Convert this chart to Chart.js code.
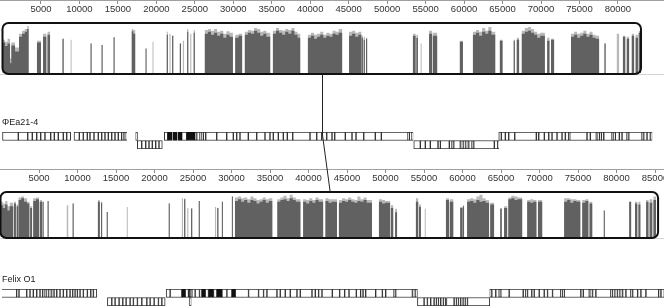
<!DOCTYPE html>
<html>
<head>
<meta charset="utf-8">
<script src="https://cdn.jsdelivr.net/npm/chart.js@4.4.0/dist/chart.umd.min.js"></script>
<style>
  html, body { margin: 0; padding: 0; background: #fff; }
  body { position: relative; width: 664px; height: 307px; overflow: hidden; }
  canvas { position: absolute; }
</style>
</head>
<body>
<canvas id="axisTop"></canvas>
<canvas id="profTop"></canvas>
<canvas id="genesTop"></canvas>
<canvas id="axisBottom"></canvas>
<canvas id="profBottom"></canvas>
<canvas id="genesBottom"></canvas>
<canvas id="link"></canvas>
<script>
const FONT = "'Liberation Sans', Arial, sans-serif"

// axis tick labels (bp)
const phiTicks = [5000, 10000, 15000, 20000, 25000, 30000, 35000, 40000, 45000, 50000, 55000, 60000, 65000, 70000, 75000, 80000]
const felixTicks = [5000, 10000, 15000, 20000, 25000, 30000, 35000, 40000, 45000, 50000, 55000, 60000, 65000, 70000, 75000, 80000, 85000]

// extent of the similarity profile boxes (bp)
const phiLength = 83000
const felixLength = 85400

// matching LCB position in each genome (bp)
const lcbPhi = 41500
const lcbFelix = 42800

// similarity profile: [start, end, mean, max] (bp, % identity-ish)
const phiProfile = [
  [0, 330, 62, 68], [330, 650, 55, 64], [650, 980, 60, 70], [980, 1150, 20, 30], [1150, 1630, 56, 62],
  [1630, 2150, 44, 52], [2150, 2540, 74, 80], [2540, 2900, 80, 86], [2900, 3200, 84, 90], [3200, 3400, 90, 96],
  [4480, 5000, 62, 66], [5270, 5700, 74, 80], [5850, 6180, 78, 84],
  [7800, 7950, 70, 70], [8850, 8980, 0, 68], [11450, 11580, 60, 60], [12880, 13010, 57, 57], [14440, 14570, 73, 73],
  [16800, 17000, 85, 90], [17000, 17250, 80, 88], [18600, 18720, 50, 50], [19500, 19630, 0, 64],
  [21350, 21500, 78, 84], [21700, 21850, 0, 80], [22050, 22200, 76, 76], [23050, 23200, 60, 60], [23450, 23600, 0, 66],
  [24000, 24150, 84, 90], [24400, 24550, 0, 80], [24850, 25000, 82, 88],
  [26300, 26700, 80, 88], [26700, 27100, 84, 90], [27100, 27500, 78, 86], [27500, 27900, 82, 90], [27900, 28300, 76, 84],
  [28300, 28700, 80, 86], [28700, 29100, 72, 80], [29100, 29500, 78, 85], [29500, 29950, 74, 82],
  [30250, 30700, 72, 78], [30700, 31150, 76, 80],
  [31500, 31900, 78, 84], [31900, 32300, 82, 88], [32300, 32700, 80, 86], [32700, 33100, 86, 92], [33100, 33500, 82, 90],
  [33500, 33900, 76, 84], [33900, 34300, 80, 86], [34300, 34800, 74, 82],
  [35150, 35550, 80, 86], [35550, 35950, 86, 92], [35950, 36350, 82, 88], [36350, 36750, 78, 86], [36750, 37150, 84, 90],
  [37150, 37550, 80, 88], [37550, 37950, 86, 92], [37950, 38350, 78, 84], [38350, 38700, 72, 80],
  [39700, 40100, 72, 78], [40100, 40500, 76, 82], [40500, 40900, 70, 78], [40900, 41300, 74, 80], [41300, 41700, 78, 84],
  [41700, 42100, 72, 78], [42100, 42500, 76, 82], [42500, 42900, 74, 80], [42900, 43300, 80, 86], [43300, 43700, 78, 84],
  [43700, 44150, 82, 90],
  [45050, 45450, 76, 84], [45450, 45850, 80, 86], [45850, 46250, 74, 82], [46250, 46650, 78, 84],
  [46700, 46850, 72, 76], [46950, 47100, 68, 74], [47250, 47400, 70, 72],
  [53350, 53700, 76, 80], [53800, 54000, 72, 78], [54350, 54480, 0, 60], [55450, 55850, 80, 86], [55950, 56500, 76, 82],
  [59450, 59850, 64, 66],
  [61150, 61550, 78, 84], [61550, 61950, 82, 88], [61950, 62350, 76, 84], [62350, 62750, 84, 92], [62750, 63150, 80, 86],
  [63150, 63550, 86, 94], [63550, 64050, 78, 84],
  [64650, 65000, 66, 68], [66450, 66600, 66, 68], [66850, 67150, 68, 72],
  [67500, 67900, 80, 86], [67900, 68300, 84, 92], [68300, 68700, 86, 94], [68700, 69100, 82, 90], [69100, 69500, 78, 84],
  [69500, 69900, 72, 80], [69900, 70500, 76, 82],
  [70800, 71100, 66, 72], [71300, 71700, 68, 70],
  [73900, 74300, 74, 80], [74300, 74700, 78, 84], [74700, 75100, 72, 80], [75100, 75500, 76, 82], [75500, 75900, 80, 86],
  [75900, 76300, 74, 80], [76300, 76700, 78, 84], [76700, 77100, 72, 78], [77100, 77550, 70, 76],
  [78250, 78400, 60, 60], [79850, 80150, 0, 80], [80650, 80950, 74, 76], [81150, 81450, 70, 74],
  [81800, 82100, 76, 80], [82300, 82600, 72, 78], [82700, 83000, 82, 86]
]

const felixProfile = [
  [0, 300, 72, 80], [300, 600, 66, 76], [600, 900, 74, 82], [900, 1200, 60, 70], [1200, 1650, 70, 78],
  [1750, 2000, 76, 80], [2100, 2300, 70, 74], [2350, 2700, 84, 90], [2700, 3050, 88, 92], [3050, 3450, 80, 88],
  [3450, 3750, 76, 80], [3850, 4100, 66, 70], [4250, 4600, 82, 88], [4600, 5000, 86, 90], [5100, 5400, 80, 84],
  [5470, 5600, 80, 80], [6120, 6250, 82, 82], [8600, 8800, 0, 72], [9370, 9500, 76, 76],
  [12650, 12900, 80, 84], [13050, 13200, 78, 80], [13800, 13930, 57, 57], [16400, 16530, 0, 68],
  [21850, 21980, 76, 76], [23550, 23700, 0, 88], [23850, 24000, 86, 88], [24250, 24400, 0, 66], [24750, 24900, 64, 66],
  [25750, 25880, 82, 82], [27850, 28000, 0, 68], [28150, 28300, 66, 66], [28750, 28880, 80, 80], [30050, 30180, 92, 92],
  [30450, 30850, 82, 90], [30850, 31250, 86, 92], [31250, 31650, 80, 88], [31650, 32050, 84, 90], [32050, 32450, 78, 86],
  [32450, 32850, 84, 92], [32850, 33250, 82, 88], [33250, 33650, 76, 84], [33650, 34050, 80, 86], [34050, 34450, 84, 90],
  [34450, 34850, 78, 86], [34850, 35300, 82, 88],
  [35950, 36350, 80, 86], [36350, 36750, 84, 90], [36750, 37150, 86, 94], [37150, 37550, 82, 88], [37550, 37950, 88, 96],
  [37950, 38350, 84, 90], [38350, 38950, 80, 86],
  [39300, 39700, 80, 86], [39700, 40100, 76, 84], [40100, 40500, 82, 88], [40500, 40900, 78, 84], [40900, 41300, 84, 90],
  [41300, 41900, 80, 86], [42200, 42600, 82, 88], [42600, 43000, 78, 86], [43000, 43700, 80, 86],
  [43950, 44350, 78, 84], [44350, 44750, 82, 88], [44750, 45150, 80, 86], [45150, 45550, 84, 90], [45550, 45950, 80, 86],
  [45950, 46350, 78, 84], [46350, 46750, 82, 92], [46750, 47150, 80, 86], [47150, 47550, 84, 90], [47550, 48250, 78, 84],
  [49150, 49550, 80, 86], [49550, 49950, 76, 84], [49950, 50600, 78, 82], [50700, 51000, 66, 72], [51250, 51500, 56, 64],
  [53950, 54250, 80, 88], [54350, 54600, 68, 74], [55100, 55230, 0, 64], [57850, 58250, 84, 88], [58350, 58800, 80, 86],
  [59700, 60000, 66, 68], [60050, 60200, 70, 72],
  [60600, 61000, 80, 86], [61000, 61400, 82, 88], [61400, 61800, 78, 86], [61800, 62200, 84, 92], [62200, 62600, 80, 96],
  [62600, 63000, 82, 88], [63000, 63450, 78, 84], [63600, 64100, 74, 78],
  [64900, 65100, 64, 66], [65400, 65800, 66, 70],
  [65950, 66350, 86, 90], [66350, 66750, 88, 94], [66750, 67150, 84, 92], [67150, 67750, 86, 90],
  [68400, 68800, 80, 84], [68800, 69200, 78, 86], [69200, 69600, 80, 84], [69800, 70350, 80, 84],
  [73200, 73600, 80, 88], [73600, 74000, 84, 88], [74000, 74400, 78, 86], [74400, 74800, 82, 86], [74800, 75300, 80, 84],
  [75550, 75950, 78, 84], [75950, 76350, 82, 86], [76500, 76850, 76, 80],
  [78350, 78480, 60, 60], [81650, 81900, 80, 80], [82400, 82700, 76, 80], [82850, 83100, 74, 80],
  [83850, 84150, 80, 84], [84300, 84650, 78, 86], [84800, 85150, 84, 92]
]

// genes [start, end] (bp)
const phiForward = [
  [0, 2054], [2054, 3276], [3276, 3874], [3874, 4446], [4446, 4966], [4966, 5525], [5525, 6266], [6266, 6734],
  [6734, 7254], [7254, 7904], [7904, 8346], [8346, 8866],
  [9295, 9984], [9984, 10504], [10504, 11024], [11024, 11375], [11375, 11895], [11895, 12454], [12454, 12896],
  [12896, 13325], [13325, 13754], [13754, 14196], [14196, 14625], [14625, 15054], [15054, 15496], [15496, 15795],
  [15795, 16055], [16055, 16146], [17316, 17550],
  [21034, 21476], [23296, 23946], [25025, 25246], [25246, 25675], [25675, 25805], [25805, 26104], [26104, 26416],
  [26416, 27846], [27846, 29146], [29146, 30004], [30004, 30446], [30446, 30875], [30875, 31954], [31954, 33046],
  [33046, 34125], [34125, 34775], [34775, 35204], [35204, 35854], [35854, 36504], [36504, 37024], [37024, 37726],
  [37726, 39975], [39975, 40846], [40846, 41496], [41496, 42146], [42146, 42835], [42835, 43186], [43186, 44564],
  [44564, 45435], [45435, 45955], [45955, 46956], [46956, 48464], [48464, 49244], [49244, 52715], [52715, 52884],
  [52884, 53235], [53235, 53365],
  [64506, 64844], [64844, 65364], [65364, 65806], [65806, 66586], [66586, 69394], [69394, 69706], [69706, 70434],
  [70434, 71006], [71006, 71435], [71435, 72085], [72085, 72735], [72735, 73164], [73164, 73606], [73606, 73736],
  [73736, 75985], [75985, 76414], [76414, 77194], [77194, 77376], [77376, 77584], [77584, 77844], [77844, 78156],
  [78156, 79235], [79235, 79456], [79456, 79664], [79664, 80184], [80184, 80535], [80535, 81185], [81185, 81406],
  [81406, 83135], [83135, 83356], [83356, 83785], [83785, 84214], [84214, 84435]
]
const phiReverse = [
  [17524, 18096], [18096, 18616], [18616, 19045], [19045, 19474], [19474, 19916], [19916, 20345], [20345, 20774],
  [53456, 54314], [54314, 54964], [54964, 55614], [55614, 56615], [56615, 56914], [56914, 58084], [58084, 58435],
  [58435, 58656], [58656, 59514], [59514, 59735], [59735, 59956], [59956, 60164], [60164, 60385], [60385, 60606],
  [60606, 61035], [61035, 61256], [61256, 63934], [63934, 64376], [64376, 64506]
]
const phiPacked = [[21476, 22074], [22204, 22646], [22776, 23296], [23946, 25025]]

const felixForward = [
  [0, 2106], [2106, 2405], [2405, 3406], [3406, 3835], [3835, 4264], [4264, 4706], [4706, 5135], [5135, 5486],
  [5486, 5785], [5785, 6006], [6006, 6214], [6214, 6435], [6435, 6656], [6656, 6955], [6955, 7306], [7306, 7735],
  [7735, 8164], [8164, 8606], [8606, 9035], [9035, 9386], [9386, 9685], [9685, 9984], [9984, 10335], [10335, 10764],
  [10764, 11284], [11284, 11726], [11726, 12064], [12064, 12506],
  [21515, 22035], [22035, 23556], [23985, 24414], [24635, 24856], [24856, 25285], [25285, 25844], [25844, 26156],
  [26585, 27014], [27664, 28106], [28756, 29406], [29406, 30056], [30485, 32214], [32214, 33514], [33514, 34164],
  [34164, 34606], [34606, 35906], [35906, 36335], [36335, 36985], [36985, 37635], [37635, 38506], [38506, 38935],
  [38935, 40456], [40456, 40885], [40885, 41314], [41314, 41756], [41756, 43095],
  [43095, 44044], [44044, 44694], [44694, 45266], [45266, 46215], [46215, 46774], [46774, 47086], [47086, 47424],
  [47424, 48724], [48724, 49595], [49595, 50024], [50024, 51116], [51116, 51324], [51324, 53495], [53495, 53716],
  [53716, 53924], [53924, 54145],
  [63544, 63804], [63804, 64324], [64324, 64766], [64766, 64974], [64974, 66066], [66066, 67886], [67886, 68224],
  [68224, 68445], [68445, 69004], [69004, 69316], [69316, 69966], [69966, 70616], [70616, 71045], [71045, 71695],
  [71695, 72774], [72774, 72995], [72995, 73216], [73216, 75374], [75374, 75686], [75686, 76466], [76466, 76674],
  [76674, 76895], [76895, 77324], [77324, 79274], [79274, 79495], [79495, 79716], [79716, 79924], [79924, 80145],
  [80145, 80366], [80366, 80574], [80574, 80795], [80795, 81224], [81224, 81874], [81874, 82095], [82095, 82745],
  [82745, 83174], [83174, 83824], [83824, 85475], [85475, 85774], [85774, 86216]
]
const felixReverse = [
  [13884, 14456], [14456, 14885], [14885, 15405], [15405, 15886], [15886, 16315], [16315, 16835], [16835, 17264],
  [17264, 17784], [17784, 18356], [18356, 19006], [19006, 19435], [19435, 19955], [19955, 20514], [20514, 20956],
  [20956, 21385], [24544, 24765],
  [54145, 55016], [55016, 55445], [55445, 55874], [55874, 56316], [56316, 56615], [56615, 56875], [56875, 57174],
  [57174, 57525], [57525, 57824], [57915, 58916], [58916, 59215], [59215, 59475], [59475, 59774], [59774, 60086],
  [60086, 60346], [60346, 60645], [60645, 63544]
]
const felixPacked = [[23556, 23985], [24414, 24635], [26156, 26585], [27014, 27664], [28106, 28756], [30056, 30485]]

// px position of bp 0 and px per bp for each genome
const phiMap = { zero: 2.5, scale: 0.007693 }
const felixMap = { zero: 0.5, scale: 0.0077 }

Chart.defaults.font.family = FONT
Chart.defaults.animation = false

function place(id, left, top, width, height) {
  const c = document.getElementById(id)
  c.width = width
  c.height = height
  c.style.left = left + "px"
  c.style.top = top + "px"
  return c
}

function xRange(left, width, pad, map) {
  return {
    min: (left + pad - map.zero) / map.scale,
    max: (left + width - pad - map.zero) / map.scale,
  }
}

const baseOptions = {
  responsive: false,
  devicePixelRatio: 1,
  plugins: { legend: { display: false }, tooltip: { enabled: false } },
}

function axisChart(id, top, map, ticks) {
  const left = -20, width = 704, pad = 20
  const r = xRange(left, width, pad, map)
  return new Chart(place(id, left, top, width, 30), {
    type: "scatter",
    data: { datasets: [] },
    options: {
      ...baseOptions,
      layout: { padding: { left: pad, right: pad, top: 0, bottom: 0 } },
      scales: {
        x: {
          type: "linear",
          position: "bottom",
          min: r.min,
          max: r.max,
          afterBuildTicks: (s) => { s.ticks = ticks.map((v) => ({ value: v })) },
          afterFit: (s) => { s.height = 18 },
          grid: { drawOnChartArea: false, tickLength: 4, color: "#8c8c8c" },
          border: { color: "#a0a0a0" },
          ticks: {
            autoSkip: false,
            maxRotation: 0,
            padding: 0,
            color: "#333",
            font: { size: 9.5 },
            callback: (v) => String(v),
          },
        },
        y: { display: false },
      },
    },
  })
}

function boxPlugin(length) {
  return {
    id: "profileBox",
    beforeDatasetsDraw(chart) {
      const { ctx, chartArea: a } = chart
      ctx.save()
      ctx.strokeStyle = "#d4d4d4"
      ctx.lineWidth = 1
      ctx.beginPath()
      ctx.moveTo(0, a.bottom + 1.5)
      ctx.lineTo(chart.width, a.bottom + 1.5)
      ctx.stroke()
      ctx.restore()
    },
    afterDatasetsDraw(chart) {
      const { ctx, chartArea: a, scales } = chart
      const x0 = scales.x.getPixelForValue(0)
      const x1 = scales.x.getPixelForValue(length)
      ctx.save()
      ctx.strokeStyle = "#111"
      ctx.lineWidth = 2
      ctx.beginPath()
      ctx.roundRect(x0, a.top - 1, x1 - x0, a.bottom - a.top + 2, 6)
      ctx.stroke()
      ctx.restore()
    },
  }
}

function profileChart(id, top, height, map, segs, length) {
  const left = -20, width = 704, pad = 20
  const r = xRange(left, width, pad, map)
  const steps = (k) => [{ x: 0, y: 0 }].concat(...segs.map((s) => [{ x: s[0], y: s[k] }, { x: s[1], y: 0 }]))
  const area = { fill: "origin", borderWidth: 0, borderColor: "rgba(0,0,0,0)", pointRadius: 0, stepped: true }
  return new Chart(place(id, left, top, width, height), {
    type: "line",
    data: {
      datasets: [
        { ...area, data: steps(2), backgroundColor: "#616161", order: 0 },
        { ...area, data: steps(3), backgroundColor: "#b9b9b9", order: 1 },
      ],
    },
    options: {
      ...baseOptions,
      layout: { padding: { left: pad, right: pad, top: 2, bottom: 2 } },
      scales: {
        x: { type: "linear", display: false, min: r.min, max: r.max },
        y: { display: false, min: 0, max: 100 },
      },
    },
    plugins: [boxPlugin(length)],
  })
}

function geneChart(id, top, map, label, fwd, rev, packed) {
  const left = -18, width = 704, pad = 20
  const r = xRange(left, width, pad, map)
  const rows = (list, row) => list.map((g) => ({ x: g, y: row }))
  return new Chart(place(id, left, top, width, 34), {
    type: "bar",
    data: {
      labels: ["forward", "reverse"],
      datasets: [
        {
          data: rows(packed, "forward"),
          backgroundColor: "#111",
          borderColor: "#111",
          order: 0,
        },
        {
          data: rows(fwd, "forward").concat(rows(rev, "reverse")),
          backgroundColor: "#fff",
          borderColor: "#333",
          order: 1,
        },
      ],
    },
    options: {
      ...baseOptions,
      indexAxis: "y",
      datasets: {
        bar: { grouped: false, barPercentage: 1, categoryPercentage: 1, borderWidth: 1, borderSkipped: false },
      },
      layout: { padding: { left: pad, right: pad, top: 0, bottom: 0 } },
      plugins: {
        ...baseOptions.plugins,
        title: {
          display: true,
          text: label,
          align: "start",
          color: "#222",
          font: { size: 9, weight: "normal", lineHeight: 1 },
          padding: { top: 3, bottom: 5 },
        },
      },
      scales: {
        x: { type: "linear", display: false, min: r.min, max: r.max },
        y: { display: false },
      },
    },
  })
}

function linkChart() {
  const ra = xRange(0, 664, 0, phiMap)
  const rb = xRange(0, 664, 0, felixMap)
  return new Chart(place("link", 0, 0, 664, 307), {
    type: "scatter",
    data: { datasets: [] },
    options: {
      ...baseOptions,
      layout: { padding: 0 },
      scales: {
        xa: { axis: "x", type: "linear", display: false, min: ra.min, max: ra.max },
        xb: { axis: "x", type: "linear", display: false, min: rb.min, max: rb.max },
        y: { display: false },
      },
    },
    plugins: [{
      id: "lcbLink",
      afterDraw(chart) {
        const { ctx, scales } = chart
        const ax = Math.round(scales.xa.getPixelForValue(lcbPhi)) + 0.5
        const bx = scales.xb.getPixelForValue(lcbFelix)
        ctx.save()
        ctx.strokeStyle = "#222"
        ctx.lineWidth = 1
        ctx.beginPath()
        ctx.moveTo(ax, 75)
        ctx.lineTo(ax, 135)
        ctx.lineTo(bx, 191)
        ctx.stroke()
        ctx.restore()
      },
    }],
  })
}

axisChart("axisTop", -12, phiMap, phiTicks)
profileChart("profTop", 22, 53, phiMap, phiProfile, phiLength)
geneChart("genesTop", 115, phiMap, "ΦEa21-4", phiForward, phiReverse, phiPacked)
axisChart("axisBottom", 157, felixMap, felixTicks)
profileChart("profBottom", 191, 48, felixMap, felixProfile, felixLength)
geneChart("genesBottom", 272, felixMap, "Felix O1", felixForward, felixReverse, felixPacked)
linkChart()
</script>
</body>
</html>
